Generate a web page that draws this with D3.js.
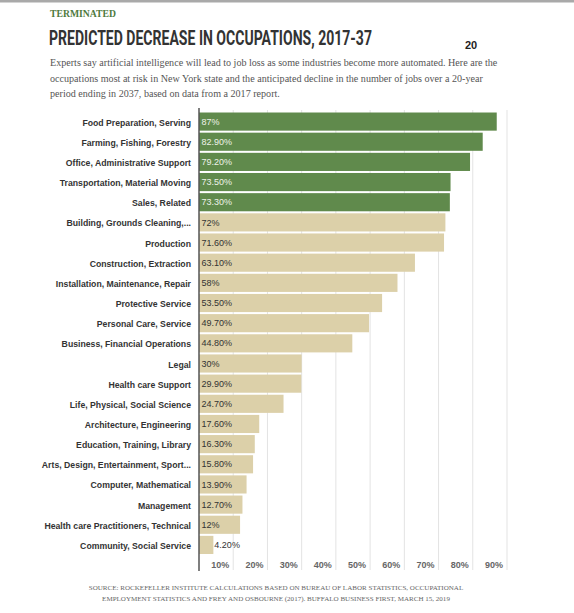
<!DOCTYPE html>
<html>
<head>
<meta charset="utf-8">
<script src="https://cdn.jsdelivr.net/npm/d3@7/dist/d3.min.js"></script>
<style>
  html, body { margin: 0; padding: 0; background: #fff; }
  svg { display: block; }
</style>
</head>
<body>
<svg id="chart" width="574" height="613"></svg>
<script>
const categories = [
  "Food Preparation, Serving",
  "Farming, Fishing, Forestry",
  "Office, Administrative Support",
  "Transportation, Material Moving",
  "Sales, Related",
  "Building, Grounds Cleaning,...",
  "Production",
  "Construction, Extraction",
  "Installation, Maintenance, Repair",
  "Protective Service",
  "Personal Care, Service",
  "Business, Financial Operations",
  "Legal",
  "Health care Support",
  "Life, Physical, Social Science",
  "Architecture, Engineering",
  "Education, Training, Library",
  "Arts, Design, Entertainment, Sport...",
  "Computer, Mathematical",
  "Management",
  "Health care Practitioners, Technical",
  "Community, Social Service"
];
const decline = [87, 82.9, 79.2, 73.5, 73.3, 72, 71.6, 63.1, 58, 53.5, 49.7, 44.8, 30, 29.9, 24.7, 17.6, 16.3, 15.8, 13.9, 12.7, 12, 4.2];
const tier = ["top","top","top","top","top","other","other","other","other","other","other","other","other","other","other","other","other","other","other","other","other","other"];
const xTicks = [10, 20, 30, 40, 50, 60, 70, 80, 90];
const kicker = "TERMINATED";
const title = "PREDICTED DECREASE IN OCCUPATIONS, 2017-37";
const pageNumber = "20";
const subtitleLines = [
  "Experts say artificial intelligence will lead to job loss as some industries become more automated. Here are the",
  "occupations most at risk in New York state and the anticipated decline in the number of jobs over a 20-year",
  "period ending in 2037, based on data from a 2017 report."
];
const sourceLines = [
  "SOURCE: ROCKEFELLER INSTITUTE CALCULATIONS BASED ON BUREAU OF LABOR STATISTICS, OCCUPATIONAL",
  "EMPLOYMENT STATISTICS AND FREY AND OSBOURNE (2017). BUFFALO BUSINESS FIRST, MARCH 15, 2019"
];

const data = categories.map((c, i) => ({ name: c, value: decline[i], tier: tier[i] }));

const svg = d3.select("#chart");
svg.append("rect").attr("width", 574).attr("height", 613).attr("fill", "#fff");
svg.append("rect").attr("x", 0).attr("y", 0).attr("width", 574).attr("height", 2.5).attr("fill", "#a9a9a9");

const sans = "'Liberation Sans', Arial, Helvetica, sans-serif";
const serif = "'Liberation Serif', 'Times New Roman', serif";

svg.append("text").attr("x", 50).attr("y", 16.5)
  .attr("font-family", serif).attr("font-weight", "bold").attr("font-size", 9.7)
  .attr("fill", "#4f7a3d").text(kicker);

// condensed title: scale the natural text horizontally to the reference width
const titleG = svg.append("g");
const titleText = titleG.append("text").attr("x", 0).attr("y", 0)
  .attr("font-family", "Roboto, sans-serif").attr("font-weight", 700).attr("font-size", 21)
  .attr("fill", "#333").text(title);
const natural = titleText.node().getComputedTextLength() || 480;
titleG.attr("transform", `translate(49,44.5) scale(${323 / natural},1)`);

svg.append("text").attr("x", 465).attr("y", 49)
  .attr("font-family", sans).attr("font-weight", "bold").attr("font-size", 11)
  .attr("fill", "#222").text(pageNumber);

svg.append("g").selectAll("text").data(subtitleLines).join("text")
  .attr("x", 50).attr("y", (d, i) => 66 + i * 15.7)
  .attr("font-family", serif).attr("font-size", 10.1).attr("fill", "#555")
  .text(d => d);

const x = d3.scaleLinear().domain([0, 90]).range([199, 507]);
const y = d3.scaleBand().domain(categories).range([111.5, 555]).paddingInner(0.1).paddingOuter(0.05);

const color = d3.scaleOrdinal().domain(["top", "other"]).range(["#608a4c", "#dcd0a9"]);

// gridlines
svg.append("g").selectAll("line").data(xTicks).join("line")
  .attr("x1", d => x(d)).attr("x2", d => x(d))
  .attr("y1", 110).attr("y2", 570)
  .attr("stroke", "#e3e3e3").attr("stroke-width", 1);

// bars
svg.append("g").selectAll("rect").data(data).join("rect")
  .attr("x", x(0)).attr("y", d => y(d.name))
  .attr("width", d => x(d.value) - x(0))
  .attr("height", y.bandwidth())
  .attr("fill", d => color(d.tier));

// axis line
svg.append("line").attr("x1", x(0)).attr("x2", x(0)).attr("y1", 108).attr("y2", 571)
  .attr("stroke", "#555").attr("stroke-width", 1.5);

// tick labels
svg.append("g").selectAll("text").data(xTicks).join("text")
  .attr("x", d => x(d) - 4).attr("y", 568)
  .attr("text-anchor", "end")
  .attr("font-family", sans).attr("font-weight", "bold").attr("font-size", 9)
  .attr("fill", "#666").text(d => d + "%");

// category labels
svg.append("g").selectAll("text").data(data).join("text")
  .attr("x", 191).attr("y", d => y(d.name) + y.bandwidth() / 2 + 1)
  .attr("dy", "0.35em").attr("text-anchor", "end")
  .attr("font-family", sans).attr("font-weight", "bold").attr("font-size", 8.7)
  .attr("fill", "#333").text(d => d.name);

// value labels
const fmt = v => Number.isInteger(v) ? v + "%" : v.toFixed(2) + "%";
svg.append("g").selectAll("text").data(data).join("text")
  .attr("x", d => (x(d.value) - x(0) < 28) ? x(d.value) + 1 : x(0) + 2.5)
  .attr("y", d => y(d.name) + y.bandwidth() / 2)
  .attr("dy", "0.35em")
  .attr("font-family", sans).attr("font-size", 9)
  .attr("fill", d => d.tier === "top" ? "#eef2e8" : "#333")
  .text(d => fmt(d.value));

// source
svg.append("g").selectAll("text").data(sourceLines).join("text")
  .attr("x", 276).attr("y", (d, i) => 590 + i * 10.5)
  .attr("text-anchor", "middle")
  .attr("font-family", serif).attr("font-size", 7.05).attr("fill", "#666")
  .text(d => d);
</script>
</body>
</html>
